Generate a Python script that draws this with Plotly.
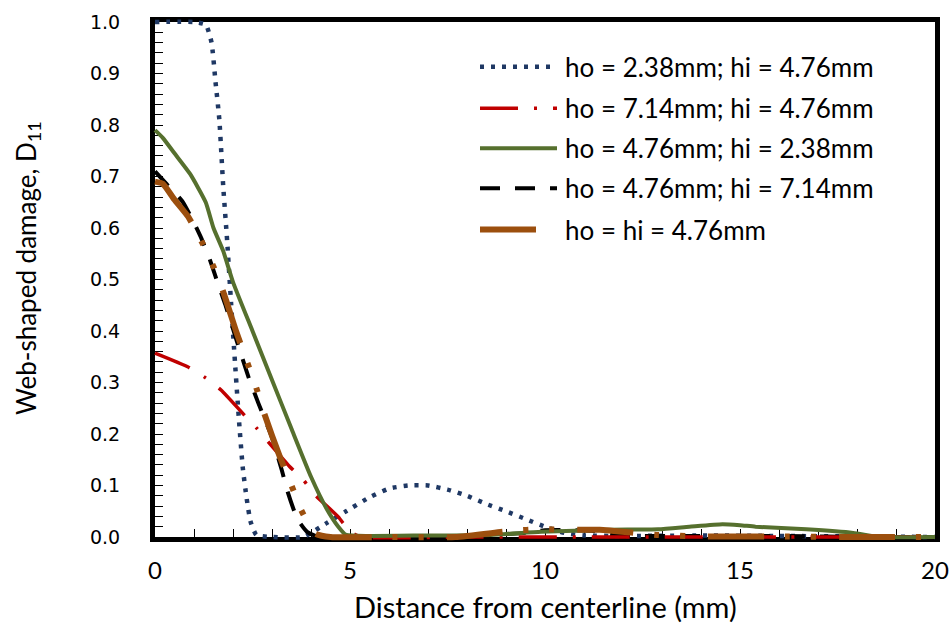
import plotly.graph_objects as go

# ---- data: web-shaped damage D11 vs. distance from centerline (mm) ----
series_names = [
    "ho = 2.38mm; hi = 4.76mm",
    "ho = 7.14mm; hi = 4.76mm",
    "ho = 4.76mm; hi = 2.38mm",
    "ho = 4.76mm; hi = 7.14mm",
    "ho = hi = 4.76mm",
]

x_ho238_hi476 = [0, 1.0, 1.3, 1.45, 1.55, 1.65, 1.75, 1.85, 1.95, 2.05, 2.15, 2.25, 2.35,
                 2.45, 2.6, 3.0, 3.8, 4.4, 4.9, 5.5, 6.0, 6.5, 7.0, 7.5, 8.0, 8.5, 9.0,
                 9.5, 10.0, 10.5, 11.0, 12, 14, 16, 18, 20]
d_ho238_hi476 = [1.0, 1.0, 0.995, 0.96, 0.885, 0.81, 0.68, 0.575, 0.455, 0.34, 0.23, 0.135,
                 0.075, 0.03, 0.004, 0.0, 0.0, 0.027, 0.05, 0.077, 0.094, 0.1, 0.1, 0.092,
                 0.08, 0.064, 0.05, 0.035, 0.02, 0.008, 0.003, 0.002, 0.003, 0.002, 0.001, 0.0]

x_ho714_hi476 = [0, 0.85, 1.3, 1.7, 2.25, 2.6, 2.9, 3.45, 3.8, 4.1, 4.7, 5.0, 5.3, 8, 12, 16, 20]
d_ho714_hi476 = [0.357, 0.33, 0.309, 0.285, 0.24, 0.212, 0.185, 0.137, 0.111, 0.082, 0.039,
                 0.01, 0.0, 0.0, 0.0, 0.0, 0.0]

x_ho476_hi238 = [0, 0.2, 0.5, 0.9, 1.3, 1.5, 1.75, 2.0, 2.5, 3.0, 3.5, 4.0, 4.4, 4.7, 4.9,
                 5.5, 7, 8.6, 9.9, 11.6, 12.9, 13.7, 14.55, 15.0, 15.4, 16.7, 17.9, 18.6, 20]
d_ho476_hi238 = [0.79, 0.775, 0.745, 0.705, 0.65, 0.60, 0.555, 0.495, 0.40, 0.305, 0.21,
                 0.117, 0.055, 0.02, 0.004, 0.002, 0.003, 0.004, 0.010, 0.014, 0.015, 0.020,
                 0.025, 0.023, 0.020, 0.015, 0.008, 0.0, 0.0]

x_ho476_hi714 = [0, 0.3, 0.7, 1.0, 1.2, 1.4, 1.6, 1.8, 2.1, 2.4, 2.65, 3.0, 3.25, 3.4, 3.65,
                 3.9, 4.2, 6, 8, 9.5, 10.0, 11.2, 11.8, 14, 16, 18.5, 20]
d_ho476_hi714 = [0.71, 0.685, 0.652, 0.61, 0.578, 0.54, 0.495, 0.452, 0.38, 0.31, 0.26,
                 0.193, 0.13, 0.088, 0.035, 0.01, 0.0, 0.0, 0.002, 0.008, 0.013, 0.012,
                 0.003, 0.002, 0.002, 0.0, 0.0]

x_ho476_hi476 = [0, 0.2, 0.5, 0.85, 1.2, 1.5, 1.75, 2.1, 2.37, 2.6, 2.8, 3.2, 3.5, 3.75,
                 4.1, 4.5, 6, 7.7, 9.15, 9.9, 10.7, 11.4, 12.9, 14, 16, 18, 20]
d_ho476_hi476 = [0.69, 0.686, 0.655, 0.622, 0.573, 0.525, 0.476, 0.395, 0.338, 0.289, 0.24,
                 0.156, 0.1, 0.052, 0.007, 0.0, 0.0, 0.0, 0.012, 0.015, 0.014, 0.014, 0.004,
                 0.001, 0.001, 0.0, 0.0]

x_ticks = [0, 5, 10, 15, 20]
y_ticks = [0.0, 0.1, 0.2, 0.3, 0.4, 0.5, 0.6, 0.7, 0.8, 0.9, 1.0]
x_minor_step = 1
y_minor_step = 0.02
x_title = "Distance from centerline (mm)"
y_title = "Web-shaped damage, D<sub>11</sub>"

# ---- styling per series (in legend order) ----
styles = [
    dict(color="#1F3864", width=4.5, dash="4px,7px"),
    dict(color="#C00000", width=3.5, dash="38px,16px,3px,16px"),
    dict(color="#56702E", width=4, dash="solid"),
    dict(color="#000000", width=4, dash="20px,15px"),
    dict(color="#9C4F0E", width=6, dash="56px,21px,5px,21px,5px,23px"),
]
series_x = [x_ho238_hi476, x_ho714_hi476, x_ho476_hi238, x_ho476_hi714, x_ho476_hi476]
series_y = [d_ho238_hi476, d_ho714_hi476, d_ho476_hi238, d_ho476_hi714, d_ho476_hi476]
draw_order = [0, 3, 1, 2, 4]


def tick_grid(lo, hi, step, labelled, fmt):
    """Every minor position gets a tick mark; only the labelled ones get text."""
    n = int(round((hi - lo) / step))
    vals = [round(lo + k * step, 6) for k in range(n + 1)]
    texts = [fmt(v) if any(abs(v - t) < 1e-9 for t in labelled) else "" for v in vals]
    return vals, texts


x_tickvals, x_ticktext = tick_grid(x_ticks[0], x_ticks[-1], x_minor_step, x_ticks, lambda v: f"{v:g}")
y_tickvals, y_ticktext = tick_grid(y_ticks[0], y_ticks[-1], y_minor_step, y_ticks, lambda v: f"{v:.1f}")

# ---- geometry (pixels) ----
W, H = 952, 623
VX0, VX1, VY0, VY1 = 155, 935, 22, 537      # framed plot box
PAD = 10                                     # extra room so curves on the frame are not clipped
L, R, T, B = VX0 - PAD, W - VX1 - PAD, VY0 - PAD, H - VY1 - PAD
PW, PH = W - L - R, H - T - B

x_rng = [x_ticks[0], x_ticks[-1]]
y_rng = [y_ticks[0], y_ticks[-1]]
ux = (x_rng[1] - x_rng[0]) / (VX1 - VX0)
uy = (y_rng[1] - y_rng[0]) / (VY1 - VY0)


def px_x(px):
    return (px - L) / PW


def px_y(py):
    return (T + PH - py) / PH


fig = go.Figure()
# empty trace keeps the framed axes pair alive
fig.add_trace(go.Scatter(x=[None], y=[None], xaxis="x", yaxis="y", showlegend=False,
                         hoverinfo="skip"))
for i in draw_order:
    fig.add_trace(go.Scatter(
        x=series_x[i], y=series_y[i], name=series_names[i], mode="lines",
        xaxis="x2", yaxis="y2",
        line=dict(color=styles[i]["color"], width=styles[i]["width"],
                  dash=styles[i]["dash"], shape="spline", smoothing=0.5),
        showlegend=False, hoverinfo="skip",
    ))

# legend drawn inside the plot: line sample + label per series
row_y = [66.7, 108.3, 148.3, 188.3, 229.5]
shapes = []
annotations = []
for i, name in enumerate(series_names):
    s = styles[i]
    shapes.append(dict(type="line", xref="paper", yref="paper",
                       x0=px_x(480), x1=px_x(557), y0=px_y(row_y[i]), y1=px_y(row_y[i]),
                       line=dict(color=s["color"], width=s["width"], dash=s["dash"])))
    annotations.append(dict(text=name, xref="paper", yref="paper",
                            x=px_x(563), y=px_y(row_y[i]), xanchor="left", yanchor="middle",
                            showarrow=False, font=dict(family="Lato", size=26, color="#000000")))

# axis titles
annotations.append(dict(text=x_title, xref="paper", yref="paper",
                        x=px_x((VX0 + VX1) / 2), y=px_y(606), xanchor="center", yanchor="middle",
                        showarrow=False, font=dict(family="Lato", size=29, color="black")))
annotations.append(dict(text=y_title, xref="paper", yref="paper",
                        x=px_x(27), y=px_y(268), xanchor="center", yanchor="middle",
                        textangle=-90, showarrow=False,
                        font=dict(family="Lato", size=26, color="black")))

dom_x = [px_x(VX0), px_x(VX1)]
dom_y = [px_y(VY1), px_y(VY0)]

fig.update_layout(
    width=W, height=H,
    margin=dict(l=L, r=R, t=T, b=B, pad=0),
    paper_bgcolor="white", plot_bgcolor="rgba(0,0,0,0)",
    shapes=shapes, annotations=annotations,
    xaxis=dict(
        domain=dom_x, anchor="y", range=x_rng,
        tickmode="array", tickvals=x_tickvals, ticktext=x_ticktext,
        ticks="inside", ticklen=8, tickwidth=1.2, tickcolor="black",
        showline=True, linewidth=5, linecolor="black", mirror=True,
        showgrid=False, zeroline=False, automargin=False,
        tickfont=dict(family="Lato", size=24, color="black"),
        ticklabelstandoff=8,
    ),
    yaxis=dict(
        domain=dom_y, anchor="x", range=y_rng,
        tickmode="array", tickvals=y_tickvals, ticktext=y_ticktext,
        ticks="inside", ticklen=8, tickwidth=1.2, tickcolor="black",
        showline=True, linewidth=5, linecolor="black", mirror=True,
        showgrid=False, zeroline=False, automargin=False,
        tickfont=dict(family="DejaVu Sans", size=19, color="black"),
        ticklabelstandoff=26,
    ),
    xaxis2=dict(domain=[0, 1], anchor="y2", visible=False, showgrid=False, zeroline=False,
                range=[x_rng[0] - PAD * ux, x_rng[1] + PAD * ux]),
    yaxis2=dict(domain=[0, 1], anchor="x2", visible=False, showgrid=False, zeroline=False,
                range=[y_rng[0] - PAD * uy, y_rng[1] + PAD * uy]),
)

fig.write_html("out.html", config={"displayModeBar": False})
